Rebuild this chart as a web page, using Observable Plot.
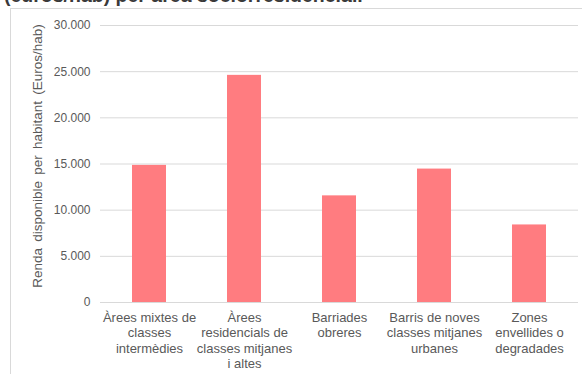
<!DOCTYPE html>
<html><head><meta charset="utf-8">
<script src="https://cdn.jsdelivr.net/npm/d3@7"></script>
<script src="https://cdn.jsdelivr.net/npm/@observablehq/plot@0.6"></script>
<style>
html,body{margin:0;padding:0;background:#fff;overflow:hidden;}
#wrap{position:relative;width:582px;height:374px;overflow:hidden;font-family:"Liberation Sans",Arial,sans-serif;}
#title{position:absolute;left:4px;top:-14px;font-size:19.5px;line-height:19.5px;font-weight:bold;color:#3a3a3a;white-space:nowrap;}
#box{position:absolute;left:10px;top:8px;width:600px;height:400px;border:1px solid #d9d9d9;box-sizing:border-box;pointer-events:none;}
#chart{position:absolute;left:0;top:0;}
</style></head><body>
<div id="wrap"><div id="chart"></div><div id="box"></div><div id="title">(euros/hab) per àrea sociorresidencial.</div></div>
<script>
const categories = [
  "Àrees mixtes de classes intermèdies",
  "Àrees residencials de classes mitjanes i altes",
  "Barriades obreres",
  "Barris de noves classes mitjanes urbanes",
  "Zones envellides o degradades"
];
const tickLabels = [
  "Àrees mixtes de\nclasses\nintermèdies",
  "Àrees\nresidencials de\nclasses mitjanes\ni altes",
  "Barriades\nobreres",
  "Barris de noves\nclasses mitjanes\nurbanes",
  "Zones\nenvellides o\ndegradades"
];
const values = [14850, 24600, 11550, 14450, 8400];
const yTicks = [0, 5000, 10000, 15000, 20000, 25000, 30000];
const yLabel = "Renda disponible per habitant (Euros/hab)";

const data = categories.map((c, i) => ({cat: c, value: values[i]}));
const loc = d3.formatLocale({decimal: ",", thousands: ".", grouping: [3], currency: ["", " €"]});
const fmt = loc.format(",d");

const chart = Plot.plot({
  width: 582,
  height: 374,
  marginLeft: 100,
  marginRight: 4,
  marginTop: 25,
  marginBottom: 72,
  style: {background: "transparent", color: "#595959", fontFamily: "'Liberation Sans', Arial, sans-serif"},
  x: {domain: categories, paddingInner: 0.645, paddingOuter: 0.3225},
  y: {domain: [0, 30000]},
  marks: [
    Plot.gridY(yTicks, {stroke: "#d9d9d9", strokeOpacity: 1}),
    Plot.barY(data, {x: "cat", y: "value", fill: "#ff7c80"}),
    Plot.axisX({tickSize: 0, tickPadding: 8.5, fontSize: 13, lineHeight: 1.18,
      tickFormat: d => tickLabels[categories.indexOf(d)], label: null}),
    Plot.axisY(yTicks, {tickSize: 0, tickPadding: 10, fontSize: 12, tickFormat: fmt, label: null}),
    Plot.axisY({tickSize: 0, ticks: [], fontSize: 13.5,
      label: yLabel, labelAnchor: "center", labelArrow: "none", labelOffset: 68})
  ]
});
chart.querySelectorAll("text").forEach(t => {
  if (t.textContent === yLabel) { t.style.wordSpacing = "2.5px"; t.setAttribute("dx", 8); }
});
document.getElementById("chart").appendChild(chart);
</script>
</body></html>
